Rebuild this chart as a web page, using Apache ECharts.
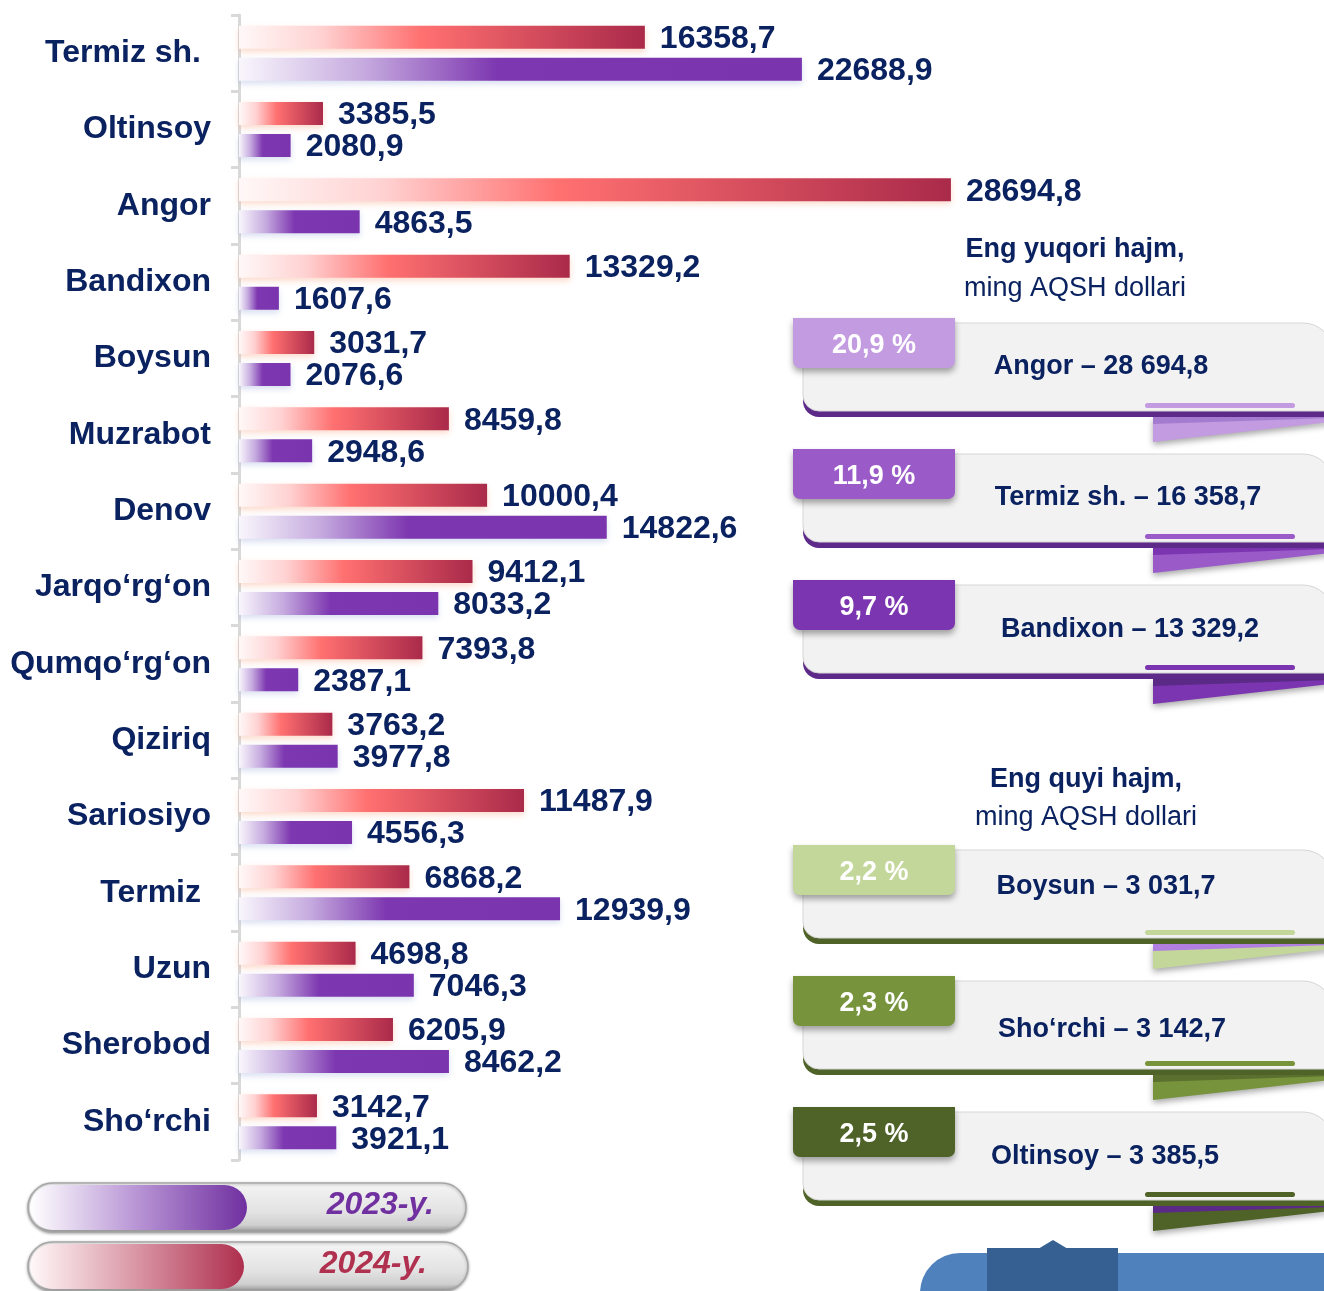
<!DOCTYPE html>
<html>
<head>
<meta charset="utf-8">
<script src="https://cdn.jsdelivr.net/npm/echarts@6/dist/echarts.min.js"></script>
<style>html,body{margin:0;padding:0;background:#fff}#c{width:1324px;height:1291px}</style>
</head>
<body>
<div id="c"></div>
<script>
const categories = ['Termiz sh.', 'Oltinsoy', 'Angor', 'Bandixon', 'Boysun', 'Muzrabot', 'Denov', 'Jarqo‘rg‘on', 'Qumqo‘rg‘on', 'Qiziriq', 'Sariosiyo', 'Termiz', 'Uzun', 'Sherobod', 'Sho‘rchi'];
const values2024 = [16358.7, 3385.5, 28694.8, 13329.2, 3031.7, 8459.8, 10000.4, 9412.1, 7393.8, 3763.2, 11487.9, 6868.2, 4698.8, 6205.9, 3142.7];
const values2023 = [22688.9, 2080.9, 4863.5, 1607.6, 2076.6, 2948.6, 14822.6, 8033.2, 2387.1, 3977.8, 4556.3, 12939.9, 7046.3, 8462.2, 3921.1];
const legendLabels = ['2023-y.', '2024-y.'];
const topTitle = ['Eng yuqori hajm,', 'ming AQSH dollari'];
const topShares = ['20,9 %', '11,9 %', '9,7 %'];
const topItems = ['Angor – 28 694,8', 'Termiz sh. – 16 358,7', 'Bandixon – 13 329,2'];
const bottomTitle = ['Eng quyi hajm,', 'ming AQSH dollari'];
const bottomShares = ['2,2 %', '2,3 %', '2,5 %'];
const bottomItems = ['Boysun – 3 031,7', 'Sho‘rchi – 3 142,7', 'Oltinsoy – 3 385,5'];

const FONT = "'Liberation Sans', Arial, sans-serif";
const NAVY = '#0b2260';

const chart = echarts.init(document.getElementById('c'), null, {renderer: 'canvas'});

const redGrad = new echarts.graphic.LinearGradient(0, 0, 1, 0, [
  {offset: 0, color: '#fff8f8'}, {offset: 0.2, color: '#ffd2d2'},
  {offset: 0.45, color: '#ff7070'}, {offset: 1, color: '#aa2a4a'}
]);
const purpleGrad = new echarts.graphic.LinearGradient(0, 0, 1, 0, [
  {offset: 0, color: '#f9f6fc'}, {offset: 0.22, color: '#c6abdf'},
  {offset: 0.46, color: '#7d37b0'}, {offset: 1, color: '#7a35ae'}
]);
const fmt = p => p.value.toFixed(1).replace('.', ',');

// right-side panels
const panelLayout = [
  {T: 318, tab: '#c39be0', dark: '#5e2a8a', rib: '#c39be0', ribTop: '#a57bd0', tx: 1101, ty: 367},
  {T: 449, tab: '#9a5bc9', dark: '#5e2a8a', rib: '#9a5bc9', ribTop: '#7b35b0', tx: 1128, ty: 498},
  {T: 580, tab: '#7b35b0', dark: '#5e2a8a', rib: '#7b35b0', ribTop: '#5b2a86', tx: 1130, ty: 630},
  {T: 845, tab: '#c4d79b', dark: '#4f6228', rib: '#c4d79b', ribTop: '#b07fe0', tx: 1106, ty: 887},
  {T: 976, tab: '#77933c', dark: '#4f6228', rib: '#77933c', ribTop: '#5b6f2e', tx: 1112, ty: 1030},
  {T: 1107, tab: '#4f6228', dark: '#4f6228', rib: '#4f6228', ribTop: '#5b2a86', tx: 1105, ty: 1157}
];
const shares = topShares.concat(bottomShares);
const items = topItems.concat(bottomItems);

const g = [];
function titleBlock(lines, cx, y1, y2) {
  g.push({type: 'text', style: {text: lines[0], x: cx, y: y1, align: 'center', verticalAlign: 'middle', font: 'bold 27px ' + FONT, fill: NAVY}});
  g.push({type: 'text', style: {text: lines[1], x: cx, y: y2, align: 'center', verticalAlign: 'middle', font: '27px ' + FONT, fill: NAVY}});
}
titleBlock(topTitle, 1075, 250, 289);
titleBlock(bottomTitle, 1086, 780, 818);

panelLayout.forEach((p, i) => {
  const T = p.T;
  g.push({type: 'polygon', shape: {points: [[1153, T + 99], [1330, T + 99], [1330, T + 104], [1153, T + 124]]},
    style: {fill: p.rib, shadowBlur: 6, shadowOffsetY: 3, shadowColor: 'rgba(0,0,0,0.35)'}});
  g.push({type: 'polygon', shape: {points: [[1153, T + 99], [1330, T + 99], [1330, T + 100], [1153, T + 106]]},
    style: {fill: p.ribTop}});
  g.push({type: 'rect', shape: {x: 803, y: T + 11, width: 530, height: 88, r: [0, 30, 0, 16]}, style: {fill: p.dark}});
  g.push({type: 'rect', shape: {x: 803, y: T + 5, width: 530, height: 88, r: [0, 30, 0, 16]},
    style: {fill: '#f2f2f2', stroke: '#d6d6d6', lineWidth: 1}});
  g.push({type: 'rect', shape: {x: 1145, y: T + 85, width: 150, height: 5, r: 2.5}, style: {fill: p.tab}});
  g.push({type: 'rect', shape: {x: 793, y: T, width: 162, height: 50, r: [0, 0, 7, 7]},
    style: {fill: p.tab, shadowBlur: 6, shadowOffsetY: 4, shadowColor: 'rgba(0,0,0,0.35)'}});
  g.push({type: 'text', style: {text: shares[i], x: 874, y: T + 28, align: 'center', verticalAlign: 'middle', font: 'bold 27px ' + FONT, fill: '#ffffff'}});
  g.push({type: 'text', style: {text: items[i], x: p.tx, y: p.ty, align: 'center', verticalAlign: 'middle', font: 'bold 27px ' + FONT, fill: NAVY}});
});

// bottom-right blue shape
g.push({type: 'rect', shape: {x: 920, y: 1253, width: 420, height: 60, r: [40, 0, 0, 0]}, style: {fill: '#4f81bd'}});
g.push({type: 'rect', shape: {x: 987, y: 1248, width: 131, height: 60}, style: {fill: '#366092'}});
g.push({type: 'polygon', shape: {points: [[1038, 1249], [1053, 1240], [1068, 1249]]}, style: {fill: '#366092'}});

// legend pills
const pillDefs = [
  {y: 1183, w: 438, fillEnd: 247, c0: '#ffffff', c1: '#b793d4', c2: '#7030a0', txt: '#7030a0', tx: 434},
  {y: 1242, w: 440, fillEnd: 244, c0: '#fff8f8', c1: '#d995a4', c2: '#ae2f4e', txt: '#b0304f', tx: 427}
];
pillDefs.forEach((d, i) => {
  g.push({type: 'rect', shape: {x: 28, y: d.y, width: d.w, height: 49, r: 24.5},
    style: {fill: new echarts.graphic.LinearGradient(0, 0, 0, 1, [
      {offset: 0, color: '#fbfbfb'}, {offset: 0.15, color: '#f0f0f0'}, {offset: 0.6, color: '#e2e2e2'},
      {offset: 0.85, color: '#cfcfcf'}, {offset: 1, color: '#8f8f8f'}]),
      stroke: '#a6a6a6', lineWidth: 1.5, shadowBlur: 3, shadowOffsetY: 1, shadowColor: 'rgba(0,0,0,0.3)'}});
  g.push({type: 'rect', shape: {x: 30, y: d.y + 2, width: d.fillEnd - 30, height: 45, r: 22.5},
    style: {fill: new echarts.graphic.LinearGradient(0, 0, 1, 0, [
      {offset: 0, color: d.c0}, {offset: 0.5, color: d.c1}, {offset: 1, color: d.c2}])}});
  g.push({type: 'text', style: {text: legendLabels[i], x: d.tx, y: d.y + 22, align: 'right', verticalAlign: 'middle',
    font: 'italic bold 32px ' + FONT, fill: d.txt}});
});

const labelStyle = {fontSize: 32, fontWeight: 'bold', color: NAVY, fontFamily: FONT};

chart.setOption({
  animation: false,
  backgroundColor: '#ffffff',
  grid: {left: 239, top: 15, width: 744.3, height: 1145, containLabel: false},
  xAxis: {type: 'value', min: 0, max: 30000, show: false},
  yAxis: {
    type: 'category', data: categories, inverse: true,
    axisLine: {show: true, lineStyle: {color: '#d9d9d9', width: 3}},
    axisTick: {show: true, length: 8, lineStyle: {color: '#d9d9d9', width: 3}},
    axisLabel: Object.assign({margin: 28,
      formatter: v => (v === 'Termiz sh.' || v === 'Termiz') ? '{p|' + v + '}' : v,
      rich: {p: Object.assign({padding: [0, 10, 0, 0]}, labelStyle)}}, labelStyle)
  },
  series: [
    {
      name: legendLabels[1], type: 'bar', data: values2024, barWidth: 23, barGap: '39%',
      itemStyle: {color: redGrad, shadowBlur: 6, shadowOffsetY: 3, shadowColor: 'rgba(245,150,110,0.35)'},
      label: Object.assign({show: true, position: 'right', distance: 15, offset: [0, 2], formatter: fmt}, labelStyle)
    },
    {
      name: legendLabels[0], type: 'bar', data: values2023, barWidth: 23, barGap: '39%',
      itemStyle: {color: purpleGrad, shadowBlur: 6, shadowOffsetY: 3, shadowColor: 'rgba(130,150,210,0.3)'},
      label: Object.assign({show: true, position: 'right', distance: 15, offset: [0, 2], formatter: fmt}, labelStyle)
    }
  ],
  graphic: {elements: g}
});
</script>
</body>
</html>
